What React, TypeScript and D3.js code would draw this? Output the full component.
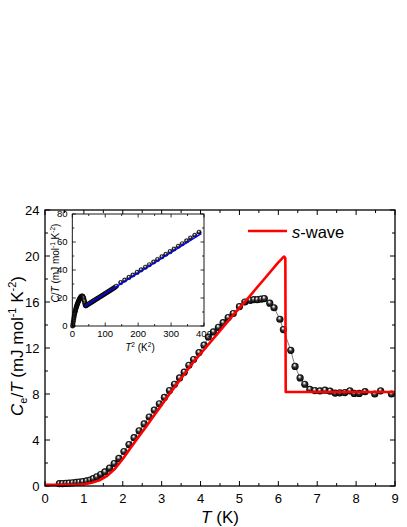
import React from 'react';
import * as d3 from 'd3';

// main panel: Ce/T vs T
const tempK = [0.37, 0.45, 0.54, 0.62, 0.71, 0.8, 0.88, 0.97, 1.07, 1.16, 1.24, 1.33, 1.43, 1.54, 1.66, 1.78, 1.9, 2.03, 2.16, 2.29, 2.42, 2.55, 2.68, 2.81, 2.94, 3.07, 3.2, 3.33, 3.46, 3.58, 3.7, 3.82, 3.96, 4.09, 4.2, 4.33, 4.46, 4.58, 4.71, 4.84, 5.0, 5.14, 5.28, 5.37, 5.46, 5.56, 5.64, 5.78, 5.89, 6.04, 6.13, 6.32, 6.43, 6.56, 6.68, 6.81, 6.94, 7.07, 7.2, 7.33, 7.46, 7.58, 7.71, 7.84, 7.95, 8.08, 8.23, 8.48, 8.63, 8.91];
const ceOverT = [0.2, 0.21, 0.23, 0.25, 0.28, 0.31, 0.34, 0.38, 0.44, 0.52, 0.64, 0.8, 1.0, 1.22, 1.55, 1.95, 2.4, 3.0, 3.6, 4.2, 4.8, 5.4, 6.0, 6.6, 7.15, 7.7, 8.3, 8.85, 9.4, 9.9, 10.5, 11.0, 11.6, 12.25, 12.95, 13.4, 13.8, 14.2, 14.65, 15.0, 15.6, 16.0, 16.15, 16.2, 16.2, 16.25, 16.3, 15.9, 15.5, 14.5, 13.6, 11.8, 10.4, 9.4, 8.85, 8.4, 8.3, 8.27, 8.33, 8.25, 8.08, 8.1, 8.12, 8.28, 8.05, 8.05, 8.2, 8.0, 8.28, 8.0];

// s-wave fit
const swaveT = [0, 0.5, 0.8, 1.0, 1.2, 1.4, 1.6, 1.8, 2.0, 2.2, 2.4, 2.6, 2.8, 3.0, 3.2, 3.4, 3.6, 3.8, 4.0, 4.4, 4.8, 5.2, 5.6, 6.0, 6.1, 6.15, 6.18, 6.19, 9.0];
const swaveCT = [0.1, 0.1, 0.11, 0.15, 0.28, 0.5, 0.88, 1.5, 2.35, 3.3, 4.25, 5.15, 6.1, 7.05, 8.0, 8.9, 9.8, 10.7, 11.5, 13.1, 14.7, 16.25, 17.85, 19.45, 19.8, 19.95, 19.8, 8.17, 8.17];

// inset: C/T vs T^2
const insetT2 = [1, 2, 3, 4, 5, 6, 7, 8, 9, 10, 11, 12, 13, 14, 15, 16, 17, 18, 19, 20, 21, 22, 23, 24, 25, 26, 27, 28, 29, 30, 31, 32, 33, 34, 35, 36, 37, 38, 39, 40, 41, 43, 46, 49, 52, 55, 58, 61, 64, 67, 70, 73, 76, 79, 82, 85, 88, 91, 94, 97, 100, 103, 106, 109, 112, 115, 118, 121, 124, 127, 130, 134, 147, 159, 172, 184, 197, 209, 222, 234, 247, 259, 272, 284, 297, 309, 322, 334, 347, 359, 372, 385];
const insetCT = [0, 1.5, 3, 4.5, 6, 7.3, 8.5, 9.6, 10.6, 11.5, 12.4, 13.2, 14, 14.7, 15.4, 16, 16.6, 17.2, 17.8, 18.3, 18.8, 19.3, 19.7, 20.1, 20.5, 20.8, 21.0, 21.2, 21.3, 21.4, 21.3, 21.1, 20.7, 20.1, 19.3, 18.4, 17.4, 16.4, 15.4, 14.7, 14.4, 14.7, 15.2, 15.6, 16.1, 16.5, 16.9, 17.4, 17.8, 18.3, 18.7, 19.2, 19.6, 20.0, 20.5, 20.9, 21.4, 21.8, 22.3, 22.7, 23.2, 23.6, 24.1, 24.5, 25.0, 25.4, 25.9, 26.3, 26.8, 27.2, 27.7, 28.4, 31.0, 32.8, 34.7, 36.4, 38.3, 40.1, 42.0, 43.8, 45.7, 47.5, 49.4, 51.2, 53.1, 55.0, 57.0, 58.8, 60.8, 62.9, 64.8, 67.0];
const fitT2 = [38, 392];
const fitCT = [14, 66];

const xTicks = [0, 1, 2, 3, 4, 5, 6, 7, 8, 9];
const yTicks = [0, 4, 8, 12, 16, 20, 24];
const insetXTicks = [0, 100, 200, 300, 400];
const insetYTicks = [0, 20, 40, 60, 80];

const FONT = 'Arial, "Liberation Sans", sans-serif';

export default function App() {
  const x = d3.scaleLinear().domain([0, 9]).range([45, 395]);
  const y = d3.scaleLinear().domain([0, 24]).range([486, 210]);
  const ix = d3.scaleLinear().domain([0, 400]).range([72.3, 204]);
  const iy = d3.scaleLinear().domain([0, 80]).range([326, 214]);

  const pts = tempK.map((t, i) => [t, ceOverT[i]]);
  const line = d3.line().x((d) => x(d[0])).y((d) => y(d[1]));
  const swave = swaveT.map((t, i) => [t, swaveCT[i]]);
  const fitLine = d3.line().x((d) => ix(d[0])).y((d) => iy(d[1]));

  const [x0, x1] = x.range();
  const [y0, y1] = y.range();
  const minorX = d3.range(0.5, 9, 1);
  const minorY = d3.range(2, 24, 4);

  const [ix0, ix1] = ix.range();
  const [iy0, iy1] = iy.range();
  const iMinorX = d3.range(50, 400, 100);
  const iMinorY = d3.range(10, 80, 20);

  return (
    <svg width={407} height={527} style={{ position: 'absolute', left: 0, top: 0 }} fontFamily={FONT}>
      <defs>
        <radialGradient id="ball" cx="0.5" cy="0.5" r="0.5" fx="0.4" fy="0.28">
          <stop offset="0" stopColor="#fff" />
          <stop offset="0.2" stopColor="#ccc" />
          <stop offset="0.5" stopColor="#333" />
          <stop offset="1" stopColor="#000" />
        </radialGradient>
      </defs>
      <rect width={407} height={527} fill="#fff" />

      {/* main axes ticks */}
      <g stroke="#000" strokeWidth={1}>
        {xTicks.map((t) => (
          <g key={'xt' + t}>
            <line x1={x(t)} x2={x(t)} y1={y0} y2={y0 - 5} />
            <line x1={x(t)} x2={x(t)} y1={y1} y2={y1 + 5} />
          </g>
        ))}
        {minorX.map((t) => (
          <g key={'xm' + t}>
            <line x1={x(t)} x2={x(t)} y1={y0} y2={y0 - 3} />
            <line x1={x(t)} x2={x(t)} y1={y1} y2={y1 + 3} />
          </g>
        ))}
        {yTicks.map((t) => (
          <g key={'yt' + t}>
            <line x1={x0} x2={x0 + 5} y1={y(t)} y2={y(t)} />
            <line x1={x1} x2={x1 - 5} y1={y(t)} y2={y(t)} />
          </g>
        ))}
        {minorY.map((t) => (
          <g key={'ym' + t}>
            <line x1={x0} x2={x0 + 3} y1={y(t)} y2={y(t)} />
            <line x1={x1} x2={x1 - 3} y1={y(t)} y2={y(t)} />
          </g>
        ))}
      </g>

      {/* data */}
      <path d={line(pts) || ''} fill="none" stroke="#444" strokeWidth={0.7} />
      {pts.map((d, i) => (
        <circle key={'p' + i} cx={x(d[0])} cy={y(d[1])} r={3.6} fill="url(#ball)" />
      ))}
      <path d={line(swave) || ''} fill="none" stroke="#ff0000" strokeWidth={2.6} strokeLinejoin="round" />

      <rect x={x0} y={y1} width={x1 - x0} height={y0 - y1} fill="none" stroke="#000" strokeWidth={1.3} />

      {xTicks.map((t) => (
        <text key={'xl' + t} x={x(t)} y={503} fontSize={13} textAnchor="middle">{t}</text>
      ))}
      {yTicks.map((t) => (
        <text key={'yl' + t} x={39.5} y={y(t) + 4.6} fontSize={13} textAnchor="end">{t}</text>
      ))}

      <text x={220} y={523} fontSize={17} textAnchor="middle">
        <tspan fontStyle="italic">T</tspan> (K)
      </text>
      <text transform="translate(23,346) rotate(-90)" fontSize={17} textAnchor="middle">
        <tspan fontStyle="italic">C</tspan>
        <tspan fontSize={11} dy={4}>e</tspan>
        <tspan dy={-4}>/</tspan>
        <tspan fontStyle="italic">T</tspan>
        <tspan> (mJ mol</tspan>
        <tspan fontSize={11} dy={-7}>-1</tspan>
        <tspan dy={7}> K</tspan>
        <tspan fontSize={11} dy={-7}>-2</tspan>
        <tspan dy={7}>)</tspan>
      </text>

      {/* legend */}
      <line x1={248} x2={287} y1={231} y2={231} stroke="#ff0000" strokeWidth={2.6} />
      <text x={292} y={238} fontSize={16.5}>
        <tspan fontStyle="italic">s</tspan>-wave
      </text>

      {/* inset */}
      <rect x={ix0} y={iy1} width={ix1 - ix0} height={iy0 - iy1} fill="#fff" />
      <g stroke="#000" strokeWidth={0.8}>
        {insetXTicks.map((t) => (
          <g key={'ixt' + t}>
            <line x1={ix(t)} x2={ix(t)} y1={iy0} y2={iy0 - 3.5} />
            <line x1={ix(t)} x2={ix(t)} y1={iy1} y2={iy1 + 3.5} />
          </g>
        ))}
        {iMinorX.map((t) => (
          <g key={'ixm' + t}>
            <line x1={ix(t)} x2={ix(t)} y1={iy0} y2={iy0 - 2} />
            <line x1={ix(t)} x2={ix(t)} y1={iy1} y2={iy1 + 2} />
          </g>
        ))}
        {insetYTicks.map((t) => (
          <g key={'iyt' + t}>
            <line x1={ix0} x2={ix0 + 3.5} y1={iy(t)} y2={iy(t)} />
            <line x1={ix1} x2={ix1 - 3.5} y1={iy(t)} y2={iy(t)} />
          </g>
        ))}
        {iMinorY.map((t) => (
          <g key={'iym' + t}>
            <line x1={ix0} x2={ix0 + 2} y1={iy(t)} y2={iy(t)} />
            <line x1={ix1} x2={ix1 - 2} y1={iy(t)} y2={iy(t)} />
          </g>
        ))}
      </g>
      {insetT2.map((t, i) => (
        <circle key={'ip' + i} cx={ix(t)} cy={iy(insetCT[i])} r={2.3} fill="url(#ball)" stroke="#000" strokeWidth={0.3} />
      ))}
      <path d={fitLine(fitT2.map((t, i) => [t, fitCT[i]])) || ''} fill="none" stroke="#0000ff" strokeWidth={1.3} />
      <rect x={ix0} y={iy1} width={ix1 - ix0} height={iy0 - iy1} fill="none" stroke="#000" strokeWidth={0.9} />

      {insetXTicks.map((t) => (
        <text key={'ixl' + t} x={ix(t)} y={337} fontSize={9.5} textAnchor="middle">{t}</text>
      ))}
      {insetYTicks.map((t) => (
        <text key={'iyl' + t} x={67.5} y={iy(t) + 3.4} fontSize={9.5} textAnchor="end">{t}</text>
      ))}
      <text x={140} y={351} fontSize={10} textAnchor="middle">
        <tspan fontStyle="italic">T</tspan>
        <tspan fontSize={6.5} dy={-4}>2</tspan>
        <tspan dy={4}> (K</tspan>
        <tspan fontSize={6.5} dy={-4}>2</tspan>
        <tspan dy={4}>)</tspan>
      </text>
      <text transform="translate(59,263) rotate(-90)" fontSize={10} textAnchor="middle">
        <tspan fontStyle="italic">C</tspan>
        <tspan>/</tspan>
        <tspan fontStyle="italic">T</tspan>
        <tspan> (mJ mol</tspan>
        <tspan fontSize={6.5} dy={-4}>-1</tspan>
        <tspan dy={4}> K</tspan>
        <tspan fontSize={6.5} dy={-4}>-2</tspan>
        <tspan dy={4}>)</tspan>
      </text>
    </svg>
  );
}
